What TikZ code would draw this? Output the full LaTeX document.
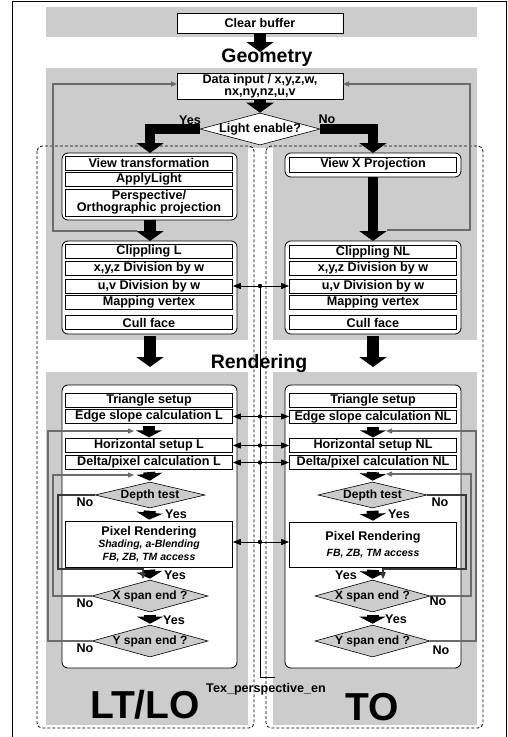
\documentclass[tikz,border=0pt]{standalone}
\usepackage{fontspec}
\setmainfont{Liberation Sans}
\usetikzlibrary{arrows.meta,shapes.geometric,calc}
\definecolor{panel}{gray}{0.8}
\definecolor{loopc}{gray}{0.42}
\definecolor{darkc}{gray}{0.22}
\begin{document}
\begin{tikzpicture}[x=1pt,y=-1pt,
  font=\fontsize{12.6}{13.5}\selectfont\bfseries,
  row/.style={draw, line width=0.7pt, fill=white, minimum width=167pt, minimum height=13.5pt, inner sep=0pt},
  topbox/.style={draw, line width=0.7pt, fill=white, minimum width=166pt, inner sep=0pt, align=center},
  rbox/.style={draw, line width=0.8pt, fill=white, rounded corners=6pt},
  dec/.style={diamond, draw, line width=0.6pt, fill=panel, inner sep=0pt},
  bigarrow/.style={line width=12pt, -{Triangle[width=27pt,length=10pt]}},
  smallarrow/.style={line width=12pt, -{Triangle[width=26pt,length=7pt]}, shorten <=2.5pt, shorten >=1pt},
  barrow/.style={line width=10pt, -{Triangle[width=27pt,length=10pt]}},
  loopg/.style={draw=loopc, line width=1.1pt, -{Triangle[width=5pt,length=6pt]}},
  loopd/.style={draw=darkc, line width=1.1pt, -{Triangle[width=5pt,length=6pt]}},
  junc/.style={line width=0.9pt, -{Triangle[width=6pt,length=8pt]}},
  lbl/.style={inner sep=0pt},
  dashbox/.style={draw, line width=0.8pt, dash pattern=on 3pt off 2pt, rounded corners=5pt},
]
\useasboundingbox (0,0) rectangle (507,737);
% outer frame
\draw[line width=0.8pt] (12.5,740) -- (12.5,1) -- (506,1) -- (506,740);
% gray panels
\fill[panel] (46,7) rectangle (477,37);
\fill[panel] (46,68) rectangle (477,148);
\fill[panel] (46,148) rectangle (248,340);
\fill[panel] (273,148) rectangle (477,340);
\fill[panel] (46,372) rectangle (248,725);
\fill[panel] (273,372) rectangle (477,725);
% dashed boxes
\draw[dashbox] (37,146) rectangle (254,728);
\draw[dashbox] (266,146) rectangle (483,728);
% rounded boxes
\draw[rbox] (62,153) rectangle (237,220);
\draw[rbox] (62,241) rectangle (237,334);
\draw[rbox] (62,385) rectangle (237,668);
\draw[rbox] (285,153) rectangle (461,177);
\draw[rbox] (285,241) rectangle (461,334);
\draw[rbox] (285,385) rectangle (461,668);
% top boxes
\node[topbox, minimum height=20pt] (clear) at (260,23) {Clear buffer};
\node[lbl, anchor=base, font=\fontsize{19.5}{20}\selectfont\bfseries] (geo) at (267,62) {Geometry};
\node[topbox, minimum height=26pt, font=\fontsize{12.6}{12.5}\selectfont\bfseries] (datain) at (260,86) {Data input / x,y,z,w,\\nx,ny,nz,u,v};
\node[diamond, draw, line width=0.6pt, fill=white, inner sep=0pt, minimum width=120pt, minimum height=32pt] (light) at (260,129) {\makebox[0pt]{Light enable?}};
% left geometry rows
\node[row, minimum height=14pt] (lvt) at (149,163) {View transformation};
\node[row, minimum height=14pt] (lal) at (149,179) {ApplyLight};
\node[row, minimum height=27pt, align=center, font=\fontsize{12.6}{12.5}\selectfont\bfseries] (lpp) at (149,202.5) {Perspective/\\Orthographic projection};
\node[row] (lcl) at (149,251.5) {Clippling L};
\node[row] (lxyz) at (149,268.5) {x,y,z Division by w};
\node[row, minimum height=14pt] (luv) at (149,286) {u,v Division by w};
\node[row] (lmv) at (149,302.5) {Mapping vertex};
\node[row] (lcf) at (149,322.5) {Cull face};
% right geometry rows
\node[row, minimum height=15pt] (rvx) at (373,164.5) {View X Projection};
\node[row] (rcl) at (373,252) {Clippling NL};
\node[row] (rxyz) at (373,268.5) {x,y,z Division by w};
\node[row, minimum height=14pt] (ruv) at (373,286) {u,v Division by w};
\node[row] (rmv) at (373,302.5) {Mapping vertex};
\node[row] (rcf) at (373,322.5) {Cull face};
% rendering label
\node[lbl, anchor=base, font=\fontsize{19.5}{20}\selectfont\bfseries] (rend) at (259,368) {Rendering};
% left rendering
\node[row] (lts) at (149,400.5) {Triangle setup};
\node[row] (les) at (149,416.5) {Edge slope calculation L};
\node[row] (lhs) at (149,445.5) {Horizontal setup L};
\node[row] (ldp) at (149,462.5) {Delta/pixel calculation L};
\node[dec, minimum width=110pt, minimum height=26pt, font=\fontsize{12}{13}\selectfont\bfseries] (ldt) at (150,495) {\makebox[0pt]{Depth test}};
\node[row, minimum height=46pt, align=center] (lpr) at (149,544) {Pixel Rendering\\[-1.5pt]{\fontsize{10.5}{12}\selectfont\bfseries\itshape Shading, a-Blending}\\[-0.5pt]{\fontsize{10.5}{12}\selectfont\bfseries\itshape FB, ZB, TM access}};
\node[dec, minimum width=116pt, minimum height=32pt, font=\fontsize{12}{13}\selectfont\bfseries] (lxs) at (150,596) {\makebox[0pt]{X span end ?}};
\node[dec, minimum width=116pt, minimum height=32pt, font=\fontsize{12}{13}\selectfont\bfseries] (lys) at (150,641) {\makebox[0pt]{Y span end ?}};
% right rendering
\node[row] (rts) at (373,400.5) {Triangle setup};
\node[row] (res) at (373,417) {Edge slope calculation NL};
\node[row] (rhs) at (373,445.5) {Horizontal setup NL};
\node[row] (rdp) at (373,462.5) {Delta/pixel calculation NL};
\node[dec, minimum width=109pt, minimum height=26pt, font=\fontsize{12}{13}\selectfont\bfseries] (rdt) at (372.5,495) {\makebox[0pt]{Depth test}};
\node[row, minimum height=45pt, align=center] (rpr) at (373,544.5) {Pixel Rendering\\[2pt]{\fontsize{10.5}{12}\selectfont\bfseries\itshape FB, ZB, TM access}};
\node[dec, minimum width=115pt, minimum height=32pt, font=\fontsize{12}{13}\selectfont\bfseries] (rxs) at (372.5,596) {\makebox[0pt]{X span end ?}};
\node[dec, minimum width=115pt, minimum height=32pt, font=\fontsize{12}{13}\selectfont\bfseries] (rys) at (372.5,641) {\makebox[0pt]{Y span end ?}};
% coordinates
\coordinate (geotop) at (260,52);
\coordinate (lut) at (150,153);
\coordinate (rut) at (373,153);
\coordinate (lub) at (150,220);
\coordinate (lmt) at (150,241);
\coordinate (rub) at (373,177);
\coordinate (rmt) at (373,241);
\coordinate (lmb) at (150,336);
\coordinate (lrt) at (150,367);
\coordinate (rmb) at (373,336);
\coordinate (rrt) at (373,367);
% big arrows
\draw[bigarrow] (clear.south) -- (geotop);
\draw[bigarrow] (datain.south) -- (light.north);
\draw[barrow] (light.west) -| (lut);
\draw[barrow] (light.east) -| (rut);
\draw[bigarrow] (lub) -- (lmt);
\draw[bigarrow, line width=10pt] (rub) -- (rmt);
\draw[bigarrow] (lmb) -- (lrt);
\draw[bigarrow] (rmb) -- (rrt);
% small arrows
\draw[smallarrow] (les.south) -- (lhs.north);
\draw[smallarrow] (ldp.south) -- (ldt.north);
\draw[smallarrow] (ldt.south) -- (lpr.north);
\draw[smallarrow] (lpr.south) -- (lxs.north);
\draw[smallarrow] (lxs.south) -- (lys.north);
\draw[smallarrow] (res.south) -- (rhs.north);
\draw[smallarrow] (rdp.south) -- (rdt.north);
\draw[smallarrow] (rdt.south) -- (rpr.north);
\draw[smallarrow] (rpr.south) -- (rxs.north);
\draw[smallarrow] (rxs.south) -- (rys.north);
% geometry loops
\coordinate (gls) at (137,231);
\coordinate (dil) at (177,84);
\coordinate (grs) at (387,230);
\coordinate (dir) at (343,84);
\draw[loopg] (gls) -| (53,84) -- (dil);
\draw[loopg] (grs) -| (470,84) -- (dir);
% rendering loops
\coordinate (lyt) at (134,431);
\coordinate (lxt) at (134,475);
\coordinate (ryt) at (386,431);
\coordinate (rxt) at (386,474);
\coordinate (ldn) at (143,579);
\coordinate (rdn) at (383,579);
\draw[loopg] (lys.west) -| (48,431) -- (lyt);
\draw[loopg] (lxs.west) -| (53,475) -- (lxt);
\draw[loopd] (ldt.west) -| (58,569) -- (143,569) -- (ldn);
\draw[loopg] (rys.east) -| (476,431) -- (ryt);
\draw[loopg] (rxs.east) -| (471,474) -- (rxt);
\draw[loopd] (rdt.east) -| (466,569) -- (383,569) -- (rdn);
% junctions
\foreach \n/\y/\l/\r in {a/286/luv/ruv, b/416.5/les/res, c/445.5/lhs/rhs, d/462.5/ldp/rdp, e/542/lpr/rpr}{
  \coordinate (j\n) at (260,\y);
  \draw[junc] (j\n) -- (\l.east |- j\n);
  \draw[junc] (j\n) -- (\r.west |- j\n);
  \fill (j\n) circle (2.2pt);
}
\coordinate (jbot) at (260,677);
\coordinate (jend) at (275,677);
\draw[line width=0.9pt] (ja) -- (jbot) -- (jend);
% labels
\node[lbl] (ly) at (190,120) {Yes};
\node[lbl] (ln) at (327,119) {No};
\node[lbl] (l1) at (85,502) {No};
\node[lbl] (l2) at (176,514) {Yes};
\node[lbl] (l3) at (175,575) {Yes};
\node[lbl] (l4) at (85,603) {No};
\node[lbl] (l5) at (174,620) {Yes};
\node[lbl] (l6) at (85,648) {No};
\node[lbl] (r1) at (440,502) {No};
\node[lbl] (r2) at (399,514) {Yes};
\node[lbl] (r3) at (346,575) {Yes};
\node[lbl] (r4) at (438,601) {No};
\node[lbl] (r5) at (396,619) {Yes};
\node[lbl] (r6) at (441,650) {No};
\node[lbl, anchor=base] (tex) at (266,692) {Tex\_perspective\_en};
\node[lbl, anchor=base, font=\fontsize{39}{40}\selectfont\bfseries] (ltlo) at (145,718) {LT/LO};
\node[lbl, anchor=base, font=\fontsize{39}{40}\selectfont\bfseries] (to) at (372,720) {TO};
\end{tikzpicture}
\end{document}
